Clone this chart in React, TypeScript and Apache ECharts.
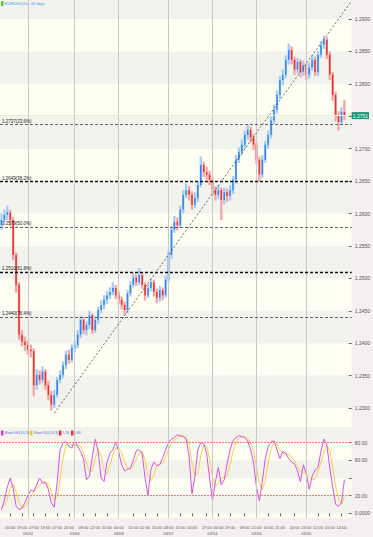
import React, { useEffect, useRef } from 'react';
import * as echarts from 'echarts';

// ---------- data (prices in 1/10000 units) ----------
const CATEGORY_COUNT = 120;

const OPEN = [
  12582, 12590, 12598, 12602, 12590, 12536, 12490, 12413, 12402, 12397,
  12390, 12388, 12335, 12351, 12343, 12356, 12335, 12320, 12305, 12320,
  12343, 12351, 12366, 12382, 12374, 12393, 12397, 12413, 12436, 12420,
  12428, 12443, 12420, 12436, 12451, 12459, 12467, 12474, 12479, 12485,
  12474, 12467, 12459, 12451, 12477, 12490, 12501, 12494, 12505, 12490,
  12474, 12485, 12494, 12479, 12470, 12482, 12474, 12498, 12536, 12575,
  12587, 12582, 12606, 12629, 12636, 12629, 12613, 12624, 12644, 12675,
  12664, 12660, 12652, 12636, 12629, 12636, 12621, 12633, 12627, 12636,
  12652, 12683, 12695, 12706, 12721, 12729, 12717, 12706, 12683, 12660,
  12683, 12706, 12721, 12744, 12760, 12783, 12806, 12814, 12837, 12852,
  12837, 12822, 12834, 12818, 12829, 12814, 12825, 12837, 12818, 12845,
  12860, 12868, 12845, 12814, 12783, 12752, 12741, 12757,
];
const CLOSE = [
  12590, 12598, 12602, 12590, 12536, 12490, 12413, 12402, 12397, 12390,
  12388, 12335, 12351, 12343, 12356, 12335, 12320, 12305, 12320, 12343,
  12351, 12366, 12382, 12374, 12393, 12397, 12413, 12436, 12420, 12428,
  12443, 12420, 12436, 12451, 12459, 12467, 12474, 12479, 12485, 12474,
  12467, 12459, 12451, 12477, 12490, 12501, 12494, 12505, 12490, 12474,
  12485, 12494, 12479, 12470, 12482, 12474, 12498, 12536, 12575, 12587,
  12582, 12606, 12629, 12636, 12629, 12613, 12624, 12644, 12675, 12664,
  12660, 12652, 12636, 12629, 12636, 12621, 12633, 12627, 12636, 12652,
  12683, 12695, 12706, 12721, 12729, 12717, 12706, 12683, 12660, 12683,
  12706, 12721, 12744, 12760, 12783, 12806, 12814, 12837, 12852, 12837,
  12822, 12834, 12818, 12829, 12814, 12825, 12837, 12818, 12845, 12860,
  12868, 12845, 12814, 12783, 12752, 12741, 12757, 12751,
];
const HIGH = [
  12600, 12606, 12612, 12606, 12594, 12540, 12494, 12420, 12410, 12404,
  12398, 12392, 12360, 12358, 12364, 12360, 12342, 12326, 12328, 12348,
  12358, 12372, 12388, 12390, 12398, 12404, 12420, 12442, 12440, 12434,
  12450, 12446, 12442, 12456, 12466, 12474, 12480, 12486, 12494, 12490,
  12480, 12472, 12464, 12482, 12496, 12508, 12506, 12516, 12510, 12494,
  12492, 12500, 12498, 12484, 12488, 12486, 12504, 12542, 12580, 12596,
  12594, 12612, 12636, 12646, 12642, 12634, 12632, 12650, 12688, 12680,
  12672, 12666, 12656, 12642, 12644, 12640, 12640, 12638, 12644, 12658,
  12690, 12702, 12714, 12728, 12738, 12734, 12722, 12710, 12688, 12690,
  12712, 12728, 12750, 12768, 12790, 12812, 12822, 12844, 12862, 12858,
  12842, 12840, 12838, 12836, 12832, 12832, 12844, 12842, 12850, 12866,
  12874, 12872, 12850, 12818, 12788, 12758, 12764, 12775,
];
const LOW = [
  12575, 12584, 12590, 12580, 12528, 12478, 12405, 12395, 12388, 12382,
  12378, 12318, 12328, 12336, 12338, 12328, 12312, 12296, 12300, 12316,
  12338, 12346, 12360, 12368, 12370, 12386, 12392, 12408, 12414, 12412,
  12422, 12414, 12416, 12430, 12446, 12452, 12460, 12468, 12474, 12468,
  12460, 12452, 12444, 12446, 12472, 12486, 12488, 12490, 12484, 12466,
  12470, 12480, 12472, 12462, 12464, 12466, 12470, 12494, 12530, 12570,
  12574, 12578, 12600, 12624, 12620, 12606, 12608, 12618, 12640, 12656,
  12652, 12644, 12628, 12620, 12622, 12590, 12614, 12618, 12620, 12630,
  12646, 12678, 12690, 12700, 12714, 12710, 12698, 12676, 12649, 12655,
  12678, 12700, 12716, 12738, 12754, 12776, 12798, 12808, 12830, 12830,
  12814, 12816, 12810, 12812, 12806, 12808, 12820, 12812, 12812, 12840,
  12854, 12838, 12806, 12774, 12742, 12728, 12736, 12744,
];

const STOCH_K = [
  4, 15, 30, 40, 28, 8, 4, 6, 12, 20,
  26, 25, 32, 40, 34, 35, 27, 12, 7, 35,
  72, 80, 81, 76, 74, 82, 76, 70, 62, 38,
  42, 64, 84, 70, 40, 36, 58, 68, 72, 81,
  70, 55, 48, 50, 51, 60, 71, 72, 68, 40,
  20, 50, 58, 54, 55, 63, 72, 80, 84, 86,
  89, 88, 87, 84, 65, 22, 42, 72, 80, 79,
  68, 40, 14, 36, 52, 32, 38, 56, 72, 82,
  86, 88, 87, 86, 82, 72, 58, 30, 14, 36,
  62, 76, 81, 82, 72, 62, 70, 68, 62, 58,
  56, 48, 36, 55, 45, 27, 42, 49, 52, 70,
  84, 78, 52, 30, 10, 8, 12, 38,
];
const STOCH_D = [
  6, 9, 16, 28, 33, 25, 13, 6, 7, 13,
  19, 24, 28, 32, 35, 36, 32, 25, 15, 18,
  38, 62, 78, 79, 77, 77, 77, 76, 69, 57,
  47, 48, 63, 73, 65, 49, 45, 54, 66, 74,
  74, 69, 58, 51, 50, 54, 61, 68, 70, 60,
  43, 37, 43, 54, 56, 57, 63, 72, 79, 83,
  86, 88, 88, 86, 79, 57, 43, 45, 65, 77,
  76, 62, 41, 30, 34, 40, 41, 42, 55, 70,
  80, 85, 87, 87, 85, 80, 71, 53, 34, 27,
  37, 58, 73, 80, 78, 72, 68, 67, 67, 63,
  59, 54, 47, 46, 45, 42, 38, 39, 48, 57,
  69, 77, 71, 53, 31, 16, 10, 19,
];
const STOCH_LEVELS = [20, 80];

const FIB_LEVELS = [12737, 12649, 12579, 12510, 12440];
const FIB_PCTS = ['23.6%', '38.2%', '50.0%', '61.8%', '76.4%'];
const FIB_STRONG = [false, true, false, true, false];

const TREND_START = [18, 12292];
const TREND_END = [119, 12925];

const TICK_INDEX = [3, 7, 11, 15, 19, 23, 28, 32, 36, 40, 45, 49, 53, 57, 61, 65, 70, 74, 78, 83, 87, 91, 95, 100, 104, 108, 112, 116];
const TICK_TIMES = ['05:00', '19:00', '07:00', '19:00', '07:00', '20:00', '09:00', '22:00', '11:00', '00:00', '15:00', '02:00', '15:00', '03:00', '15:00', '04:00', '17:00', '06:00', '19:00', '08:00', '21:00', '10:00', '21:00', '10:00', '23:00', '12:00', '01:00', '14:00'];
const SEP_INDEX = [9, 25, 40, 57, 72, 87, 104];
const SEP_DATES = ['03/02', '03/06', '03/08', '03/12', '03/14', '03/16', '03/20'];

// ---------- styling ----------
const FONT = 'Liberation Sans';
const UP_WICK = '#a6cdf7';
const UP_BODY = '#2f86ee';
const DOWN_WICK = '#f7a6a6';
const DOWN_BODY = '#ee2d2d';
const BAND = ['#fefef3', '#f3f3ee'];
const PINK = '#f6eef1';

function buildOption() {
  const cats = Array.from({ length: CATEGORY_COUNT }, (_, i) => String(i));
  const tickSet = new Set(TICK_INDEX);
  const labelSet = new Set([...TICK_INDEX, ...SEP_INDEX]);
  const timeAt = new Map(TICK_INDEX.map((ix, k) => [ix, TICK_TIMES[k]]));
  const dateAt = new Map(SEP_INDEX.map((ix, k) => [ix, SEP_DATES[k]]));

  const candleData = CLOSE.map((c, i) => [i, OPEN[i] / 1e4, c / 1e4, LOW[i] / 1e4, HIGH[i] / 1e4]);
  const closeData = CLOSE.map((c) => c / 1e4);
  const lastClose = CLOSE[CLOSE.length - 1] / 1e4;
  const lastK = STOCH_K[STOCH_K.length - 1];

  const sepLines = SEP_INDEX.map((ix) => ({ xAxis: ix }));

  const fibLines = FIB_LEVELS.map((lv, k) => ({
    yAxis: lv / 1e4,
    lineStyle: {
      color: FIB_STRONG[k] ? '#111' : '#555',
      width: FIB_STRONG[k] ? 1.3 : 0.9,
      type: [3, 2],
    },
    label: {
      show: true,
      position: 'insideStartTop',
      formatter: `${(lv / 1e4).toFixed(4)}(${FIB_PCTS[k]})`,
      fontSize: 4.5,
      fontFamily: FONT,
      color: '#222',
      distance: [2, 1],
    },
  }));

  const yLabelStyle = { fontSize: 5, fontFamily: FONT, color: '#555', margin: 3 };

  return {
    animation: false,
    backgroundColor: PINK,
    grid: [
      { left: 0, top: 0, width: 361, height: 427 },
      { left: 0, top: 427, width: 361, height: 91 },
    ],
    xAxis: [
      { type: 'category', gridIndex: 0, data: cats, show: false, boundaryGap: true },
      {
        type: 'category',
        gridIndex: 1,
        data: cats,
        boundaryGap: true,
        axisLine: { show: false },
        axisTick: {
          show: true,
          alignWithLabel: true,
          length: 3,
          interval: (idx: number) => tickSet.has(idx),
          lineStyle: { color: '#666', width: 1 },
        },
        axisLabel: {
          interval: (idx: number) => labelSet.has(idx),
          formatter: (_v: string, idx: number) => `${timeAt.get(idx) ?? ''}\n${dateAt.get(idx) ?? ''}`,
          fontSize: 4,
          lineHeight: 6,
          fontFamily: FONT,
          color: '#555',
          margin: 6,
        },
        splitLine: { show: false },
      },
    ],
    yAxis: [
      {
        type: 'value',
        gridIndex: 0,
        position: 'right',
        min: 1.22707,
        max: 1.29293,
        splitNumber: 13,
        axisLine: { show: false },
        axisTick: { show: true, inside: true, length: 3, lineStyle: { color: '#666' } },
        axisLabel: {
          ...yLabelStyle,
          showMinLabel: false,
          showMaxLabel: false,
          // the current-price box covers the label that lies under it
          formatter: (v: number) => (Math.abs(v - lastClose) < 0.0006 ? '' : v.toFixed(4)),
        },
        splitLine: { show: false },
        splitArea: { show: true, areaStyle: { color: BAND } },
      },
      {
        type: 'value',
        gridIndex: 1,
        position: 'right',
        min: -5.33,
        max: 97.8,
        splitNumber: 5,
        axisLine: { show: false },
        axisTick: { show: true, inside: true, length: 3, lineStyle: { color: '#666' } },
        axisLabel: {
          ...yLabelStyle,
          showMinLabel: false,
          showMaxLabel: false,
          formatter: (v: number) => (Math.abs(v - lastK) < 7 ? '' : v === 0 ? '0.0000' : v.toFixed(2)),
        },
        splitLine: { show: false },
        splitArea: { show: true, areaStyle: { color: BAND } },
      },
    ],
    graphic: [
      { type: 'rect', left: 1, top: 1, shape: { width: 2.5, height: 5 }, style: { fill: '#5cc23a' }, z: 100 },
      { type: 'text', left: 4.5, top: 1, style: { text: 'EURUSD(1h, 30 day)', fontSize: 4.2, fontFamily: FONT, fill: '#4a96e6' }, z: 100 },
      { type: 'rect', left: 1, top: 430.5, shape: { width: 2.5, height: 5 }, style: { fill: '#d63cd6' }, z: 100 },
      { type: 'text', left: 4.5, top: 430.5, style: { text: 'Slow%K(14,3)', fontSize: 3.9, fontFamily: FONT, fill: '#5a6fd8' }, z: 100 },
      { type: 'rect', left: 30, top: 430.5, shape: { width: 2.5, height: 5 }, style: { fill: '#f2c418' }, z: 100 },
      { type: 'text', left: 33.5, top: 430.5, style: { text: 'Slow%D(14,3)', fontSize: 3.9, fontFamily: FONT, fill: '#5a6fd8' }, z: 100 },
      { type: 'rect', left: 59, top: 430.5, shape: { width: 2.5, height: 5 }, style: { fill: '#ee3030' }, z: 100 },
      { type: 'text', left: 62.5, top: 430.5, style: { text: 'L20', fontSize: 3.9, fontFamily: FONT, fill: '#5a6fd8' }, z: 100 },
      { type: 'rect', left: 71, top: 430.5, shape: { width: 2.5, height: 5 }, style: { fill: '#ee3030' }, z: 100 },
      { type: 'text', left: 74.5, top: 430.5, style: { text: 'L80', fontSize: 3.9, fontFamily: FONT, fill: '#5a6fd8' }, z: 100 },
    ],
    series: [
      {
        name: 'sepMain',
        type: 'line',
        xAxisIndex: 0,
        yAxisIndex: 0,
        data: closeData,
        showSymbol: false,
        lineStyle: { opacity: 0 },
        silent: true,
        z: 1,
        markLine: {
          silent: true,
          symbol: ['none', 'none'],
          label: { show: false },
          lineStyle: { color: '#c9c9c9', width: 1, type: 'solid' },
          data: sepLines,
        },
      },
      {
        name: 'EURUSD',
        type: 'custom',
        xAxisIndex: 0,
        yAxisIndex: 0,
        data: candleData,
        encode: { x: 0, y: [1, 2, 3, 4] },
        clip: true,
        z: 2,
        renderItem: (_params: any, api: any) => {
          const idx = api.value(0);
          const o = api.value(1);
          const c = api.value(2);
          const l = api.value(3);
          const h = api.value(4);
          const pH = api.coord([idx, h]);
          const pL = api.coord([idx, l]);
          const pO = api.coord([idx, o]);
          const pC = api.coord([idx, c]);
          const w = api.size([1, 0])[0];
          const up = c >= o;
          const top = Math.min(pO[1], pC[1]);
          const bh = Math.max(1, Math.abs(pO[1] - pC[1]));
          return {
            type: 'group',
            children: [
              {
                type: 'rect',
                shape: { x: pH[0] - w * 0.4, y: pH[1], width: w * 0.8, height: Math.max(1, pL[1] - pH[1]) },
                style: { fill: up ? UP_WICK : DOWN_WICK },
              },
              {
                type: 'rect',
                shape: { x: pH[0] - w * 0.25, y: top, width: w * 0.5, height: bh },
                style: { fill: up ? UP_BODY : DOWN_BODY },
              },
            ],
          };
        },
      },
      {
        name: 'levels',
        type: 'line',
        xAxisIndex: 0,
        yAxisIndex: 0,
        data: closeData,
        showSymbol: false,
        lineStyle: { opacity: 0 },
        silent: true,
        z: 3,
        markLine: {
          silent: true,
          precision: 5,
          symbol: ['none', 'none'],
          label: { show: false },
          data: [
            ...fibLines,
            [
              { coord: [TREND_START[0], TREND_START[1] / 1e4], lineStyle: { color: '#444', width: 0.8, type: [2, 2] } },
              { coord: [TREND_END[0], TREND_END[1] / 1e4] },
            ],
            {
              yAxis: lastClose,
              lineStyle: { color: '#e2f0cc', width: 1, type: 'solid' },
              label: {
                show: true,
                position: 'end',
                distance: 0,
                formatter: lastClose.toFixed(4),
                backgroundColor: '#16997a',
                color: '#fff',
                fontSize: 5,
                fontFamily: FONT,
                padding: [1, 1, 1, 1],
              },
            },
          ],
        },
      },
      {
        name: 'sepSub',
        type: 'line',
        xAxisIndex: 1,
        yAxisIndex: 1,
        data: STOCH_D,
        showSymbol: false,
        lineStyle: { opacity: 0 },
        silent: true,
        z: 1,
        markLine: {
          silent: true,
          symbol: ['none', 'none'],
          label: { show: false },
          lineStyle: { color: '#c9c9c9', width: 1, type: 'solid' },
          data: sepLines,
        },
      },
      {
        name: 'Slow%D(14,3)',
        type: 'line',
        xAxisIndex: 1,
        yAxisIndex: 1,
        data: STOCH_D,
        showSymbol: false,
        lineStyle: { color: '#f6cf4a', width: 1 },
        z: 3,
      },
      {
        name: 'Slow%K(14,3)',
        type: 'line',
        xAxisIndex: 1,
        yAxisIndex: 1,
        data: STOCH_K,
        showSymbol: false,
        lineStyle: { color: '#dc4ee0', width: 1 },
        z: 4,
        markLine: {
          silent: true,
          precision: 4,
          symbol: ['none', 'none'],
          label: { show: false },
          data: [
            ...STOCH_LEVELS.map((lv) => ({
              yAxis: lv,
              lineStyle: { color: '#f77878', width: 1.2, type: [2, 1] },
            })),
            {
              yAxis: lastK,
              lineStyle: { opacity: 0 },
              label: {
                show: true,
                position: 'end',
                distance: 0,
                formatter: lastK.toFixed(2),
                backgroundColor: '#16997a',
                color: '#fff',
                fontSize: 5,
                fontFamily: FONT,
                padding: [1, 1, 1, 1],
              },
            },
          ],
        },
      },
    ],
  };
}

export default function App() {
  const ref = useRef<HTMLDivElement>(null);
  useEffect(() => {
    if (!ref.current) return;
    const chart = echarts.init(ref.current, null, { renderer: 'svg' });
    chart.setOption(buildOption() as any);
    return () => chart.dispose();
  }, []);
  return <div ref={ref} style={{ position: 'fixed', left: 0, top: 0, width: 373, height: 537 }} />;
}
